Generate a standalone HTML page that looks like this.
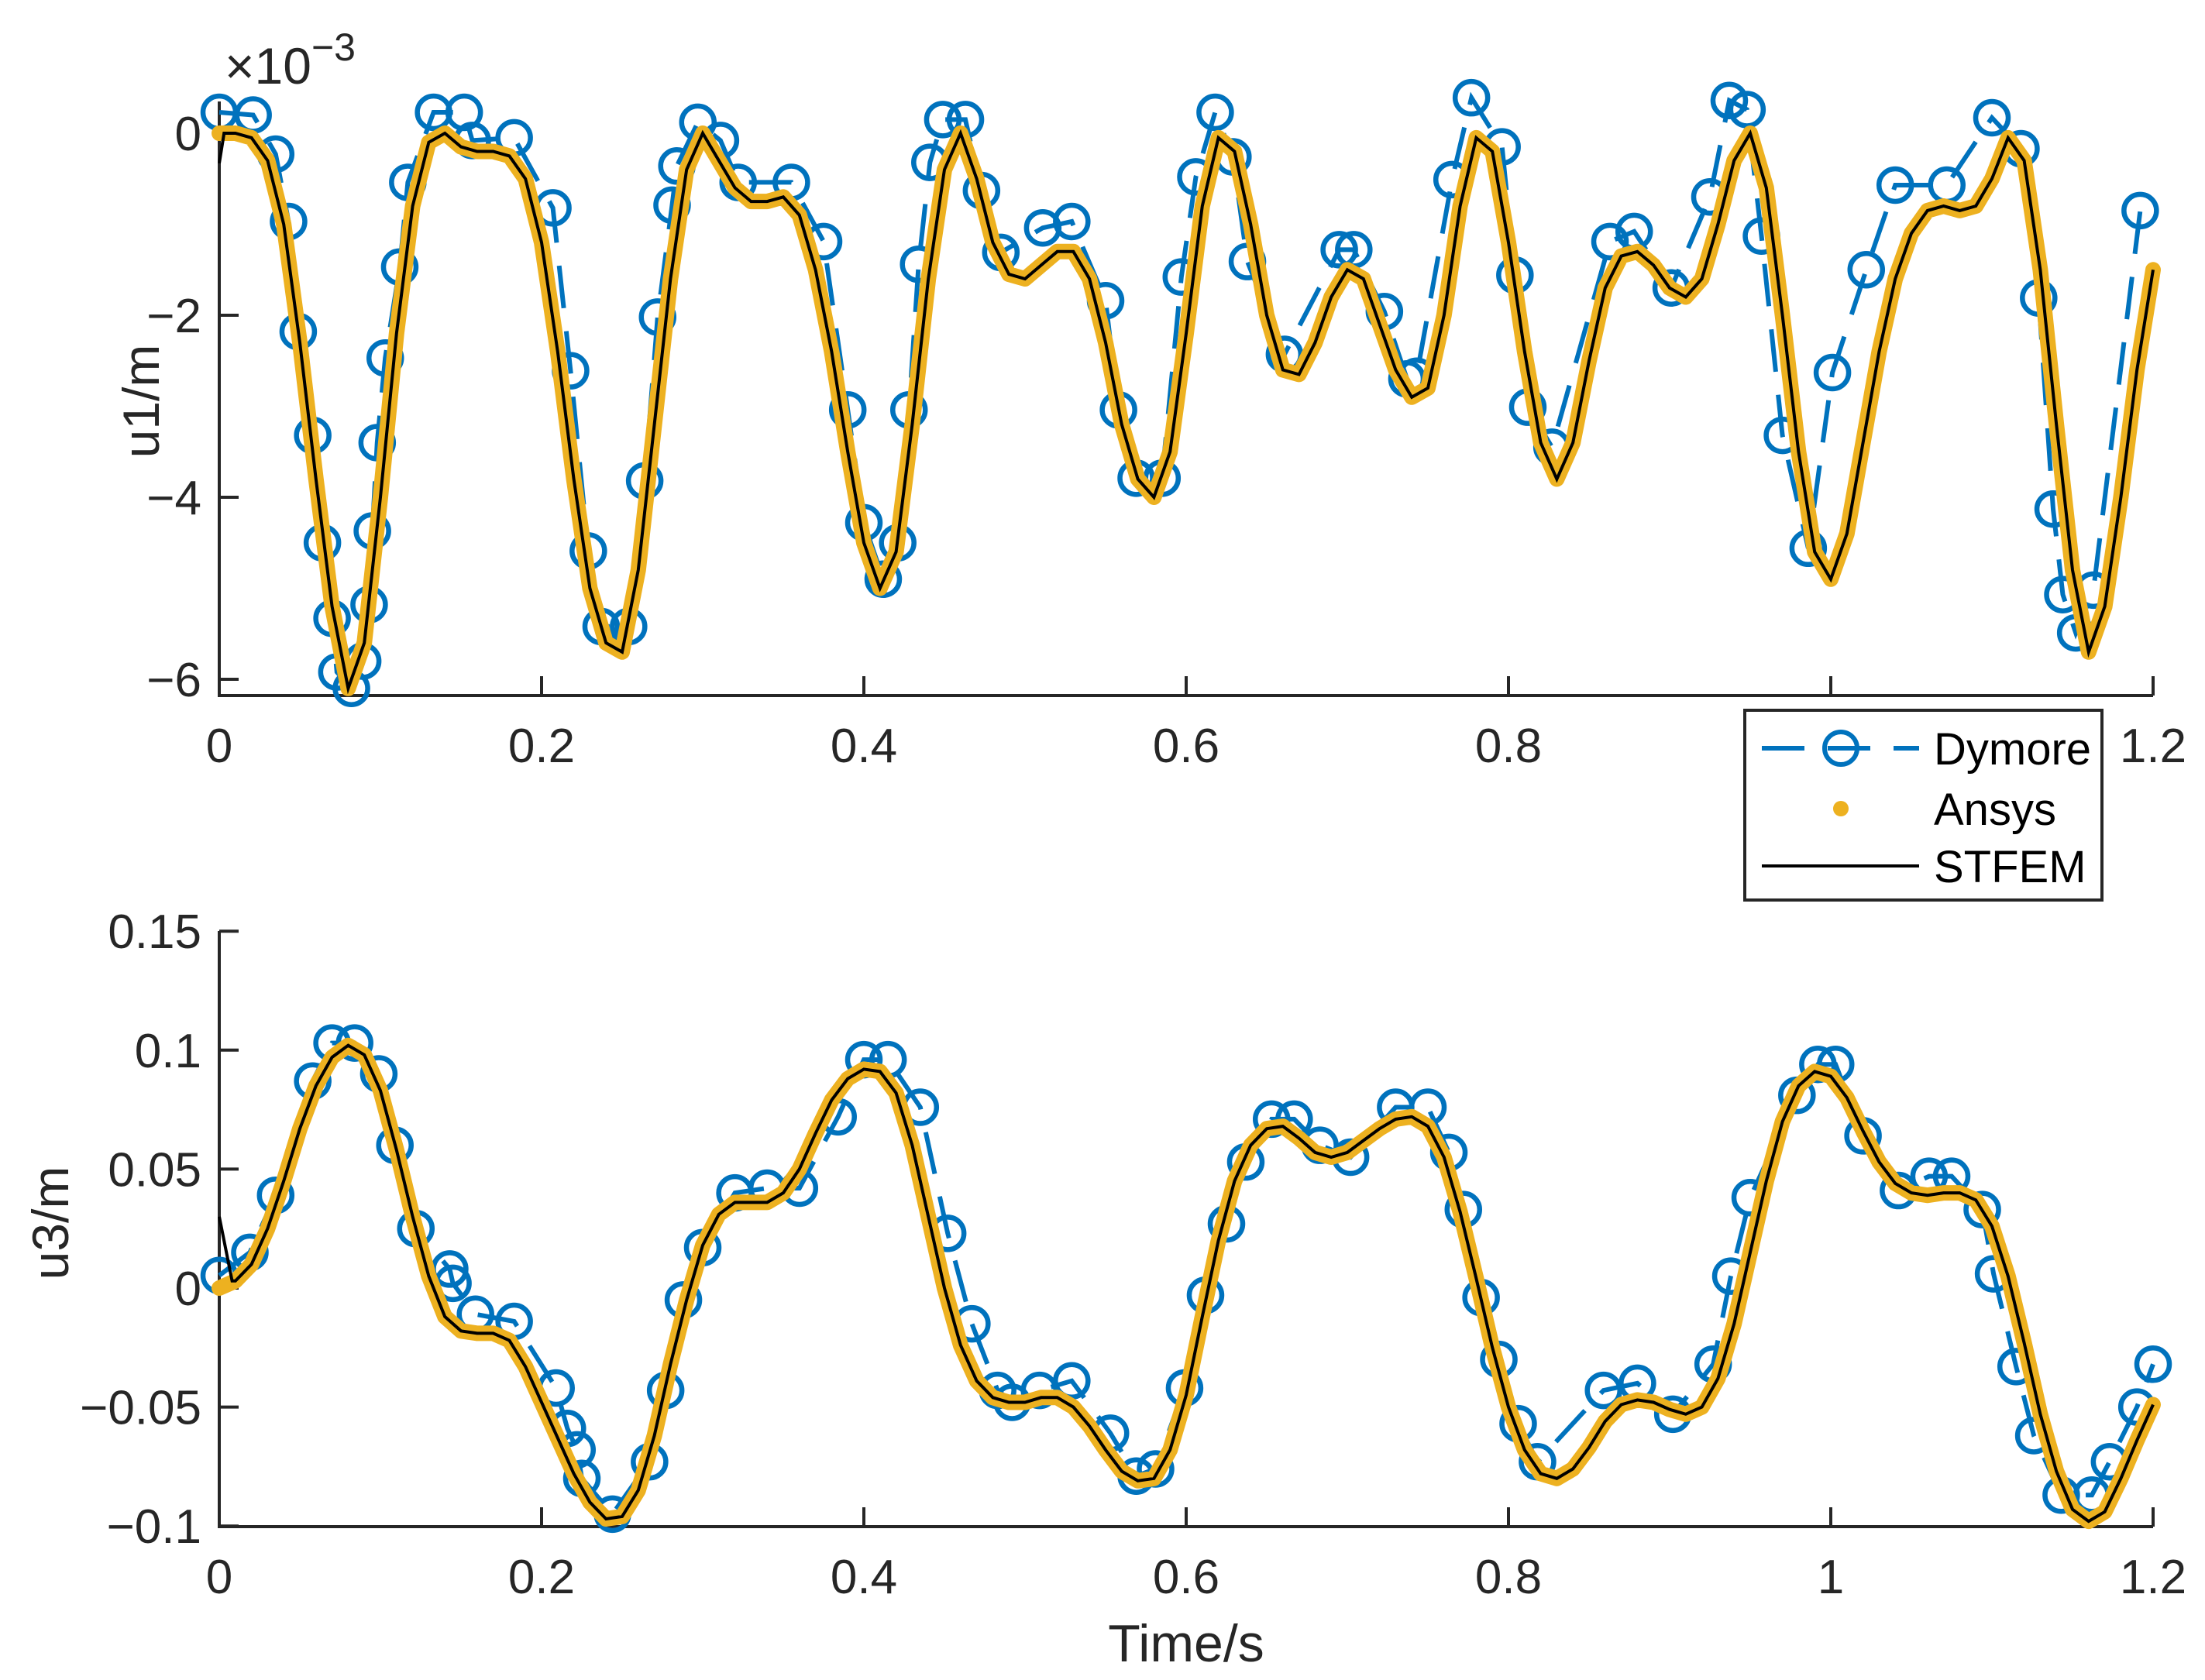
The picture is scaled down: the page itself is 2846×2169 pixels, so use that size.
<!DOCTYPE html>
<html><head><meta charset="utf-8"><style>
html,body{margin:0;padding:0;background:#fff}
svg{display:block}
text{font-family:"Liberation Sans",Arial,sans-serif;fill:#262626}
</style></head><body>
<svg id="chart" width="2846" height="2169" viewBox="0 0 2846 2169" xmlns="http://www.w3.org/2000/svg">
<g id="topPanel"></g>
<g id="botPanel"></g>
<g id="legend">
 <rect x="2252" y="917" width="461" height="245" fill="#fff" stroke="#262626" stroke-width="4"/>
 <g>
  <line x1="2274" y1="966" x2="2477" y2="966" stroke="#0072BD" stroke-width="6" stroke-dasharray="55,30"/>
  <circle cx="2376" cy="966" r="21" fill="none" stroke="#0072BD" stroke-width="6"/>
  <text x="2496" y="987" font-size="58" style="fill:#000">Dymore</text>
 </g>
 <g>
  <circle cx="2376" cy="1044" r="10" fill="#EDB120"/>
  <text x="2496" y="1065" font-size="58" style="fill:#000">Ansys</text>
 </g>
 <g>
  <line x1="2274" y1="1118" x2="2477" y2="1118" stroke="#000" stroke-width="4"/>
  <text x="2496" y="1139" font-size="58" style="fill:#000">STFEM</text>
 </g>
</g>
</svg>
<script>
const u1Stfem = [0,0,-0.05,-0.3,-1.0,-2.3,-3.8,-5.2,-6.1,-5.6,
-4.0,-2.2,-0.8,-0.1,0.0,-0.15,-0.2,-0.2,-0.25,-0.5,
-1.2,-2.4,-3.8,-5.0,-5.6,-5.7,-4.8,-3.2,-1.6,-0.4,
0.0,-0.3,-0.6,-0.75,-0.75,-0.7,-0.9,-1.5,-2.4,-3.5,
-4.5,-5.0,-4.6,-3.2,-1.6,-0.4,0.0,-0.5,-1.2,-1.55,
-1.6,-1.45,-1.3,-1.3,-1.6,-2.3,-3.2,-3.8,-4.0,-3.5,
-2.2,-0.8,-0.05,-0.2,-1.0,-2.0,-2.6,-2.65,-2.3,-1.8,
-1.5,-1.6,-2.1,-2.6,-2.9,-2.8,-2.0,-0.8,-0.05,-0.2,
-1.2,-2.4,-3.4,-3.8,-3.4,-2.5,-1.7,-1.35,-1.3,-1.45,
-1.7,-1.8,-1.6,-1.0,-0.3,0.0,-0.6,-2.0,-3.5,-4.6,
-4.9,-4.4,-3.4,-2.4,-1.6,-1.1,-0.85,-0.8,-0.85,-0.8,
-0.5,-0.05,-0.3,-1.5,-3.2,-4.8,-5.7,-5.2,-4.0,-2.6,-1.5];
const u1Ansys = u1Stfem.slice();
const u3Stfem = [0.000,0.003,0.010,0.025,0.045,0.067,0.085,0.097,0.102,0.098,
0.083,0.058,0.030,0.005,-0.012,-0.018,-0.019,-0.019,-0.022,-0.033,
-0.048,-0.063,-0.078,-0.090,-0.097,-0.096,-0.085,-0.062,-0.032,-0.005,
0.018,0.031,0.036,0.036,0.036,0.040,0.050,0.065,0.079,0.088,
0.092,0.091,0.082,0.060,0.030,0.000,-0.024,-0.039,-0.046,-0.048,
-0.048,-0.046,-0.046,-0.050,-0.058,-0.068,-0.077,-0.081,-0.080,-0.068,
-0.045,-0.012,0.020,0.045,0.060,0.067,0.068,0.063,0.057,0.055,
0.057,0.062,0.067,0.071,0.072,0.068,0.055,0.032,0.004,-0.025,
-0.050,-0.068,-0.078,-0.080,-0.076,-0.067,-0.056,-0.049,-0.047,-0.048,
-0.051,-0.053,-0.050,-0.038,-0.015,0.015,0.045,0.070,0.085,0.091,
0.089,0.080,0.066,0.053,0.044,0.040,0.039,0.040,0.040,0.037,
0.026,0.005,-0.023,-0.053,-0.077,-0.093,-0.098,-0.094,-0.080,-0.064,-0.049];
const u3Ansys = u3Stfem.slice();
const u1SpikeT = [0, 0.003];
const u1SpikeV = [-0.33, 0];
const u3SpikeT = [0, 0.008];
const u3SpikeV = [0.030, 0.003];
const u1DymT = [0,.021,.035,.043,.049,.058,.064,.070,.073,.082,.089,.093,.095,.098,.103,.112,.117,.133,.152,.157,.183,.207,.218,.229,.237,.254,.264,.272,.281,.284,.297,.311,.322,.355,.375,.390,.400,.412,.421,.428,.434,.441,.449,.463,.473,.485,.511,.529,.550,.558,.569,.585,.597,.606,.618,.629,.638,.661,.695,.704,.723,.737,.743,.765,.777,.796,.804,.812,.827,.863,.878,.901,.925,.937,.948,.957,.970,.986,1.001,1.022,1.040,1.072,1.100,1.118,1.129,1.138,1.144,1.152,1.163,1.192];
const u1DymV = [.23,.20,-.23,-.97,-2.18,-3.32,-4.50,-5.33,-5.92,-6.10,-5.80,-5.18,-4.37,-3.40,-2.47,-1.47,-.54,.23,.23,-.08,-.05,-.82,-2.61,-4.59,-5.42,-5.42,-3.82,-2.02,-.79,-.36,.12,-.08,-.54,-.54,-1.19,-3.04,-4.28,-4.90,-4.50,-3.04,-1.44,-.32,.15,.15,-.63,-1.31,-1.04,-.97,-1.84,-3.04,-3.79,-3.79,-1.58,-.48,.23,-.26,-1.41,-2.43,-1.28,-1.28,-1.96,-2.70,-2.67,-.51,.39,-.15,-1.56,-3.01,-3.45,-1.19,-1.08,-1.70,-.70,.36,.26,-1.13,-3.32,-4.56,-2.63,-1.50,-.57,-.57,.17,-.17,-1.81,-4.13,-5.07,-5.49,-5.02,-.85];
const u3DymT = [0,.019,.035,.058,.070,.084,.099,.109,.122,.143,.145,.159,.183,.209,.216,.222,.225,.244,.267,.277,.288,.300,.320,.340,.360,.384,.400,.415,.435,.452,.467,.483,.492,.509,.529,.553,.569,.581,.599,.612,.625,.637,.653,.667,.683,.702,.730,.750,.763,.772,.783,.794,.806,.818,.859,.880,.902,.927,.938,.950,.979,.992,1.003,1.020,1.042,1.061,1.075,1.094,1.101,1.115,1.126,1.143,1.162,1.173,1.190];
const u3DymV = [.0053,.015,.039,.087,.103,.103,.090,.060,.025,.008,.002,-.011,-.014,-.042,-.059,-.068,-.080,-.095,-.073,-.043,-.005,.017,.040,.042,.042,.072,.096,.096,.076,.023,-.015,-.043,-.048,-.043,-.039,-.061,-.079,-.076,-.042,-.003,.027,.053,.071,.071,.060,.055,.076,.076,.057,.033,-.004,-.030,-.057,-.073,-.043,-.040,-.053,-.032,.005,.038,.081,.094,.094,.064,.041,.047,.047,.033,.006,-.033,-.062,-.087,-.087,-.073,-.050];
const xTicks = [0,0.2,0.4,0.6,0.8,1,1.2];
const xTickLabels = ["0","0.2","0.4","0.6","0.8","1","1.2"];
const u1Ticks = [0,-2,-4,-6];
const u1TickLabels = ["0","\u22122","\u22124","\u22126"];
const u3Ticks = [0.15,0.1,0.05,0,-0.05,-0.1];
const u3TickLabels = ["0.15","0.1","0.05","0","\u22120.05","\u22120.1"];

const NS="http://www.w3.org/2000/svg";
function mk(parent,tag,attrs){const e=document.createElementNS(NS,tag);for(const k in attrs)e.setAttribute(k,attrs[k]);parent.appendChild(e);return e;}
const X0=283,X1=2779;
function xs(t){return X0+t/1.2*(X1-X0);}
function grid(n){const a=[];for(let i=0;i<n;i++)a.push(i*0.01);return a;}
function pathD(T,V,ys){return T.map((t,i)=>(i?'L':'M')+xs(t).toFixed(1)+' '+ys(V[i]).toFixed(1)).join(' ');}

function panel(g,cfg){
  const yAx=mk(g,'line',{x1:X0,y1:cfg.yTop,x2:X0,y2:cfg.yBot,stroke:'#262626','stroke-width':4});
  
  
  const xAx=mk(g,'line',{x1:X0-2,y1:cfg.yBot,x2:X1,y2:cfg.yBot,stroke:'#262626','stroke-width':4});
  
  
  xTicks.forEach((t,i)=>{
    const l=mk(g,'line',{x1:xs(t),y1:cfg.yBot,x2:xs(t),y2:cfg.yBot-25,stroke:'#262626','stroke-width':4});
    
    
    const tx=mk(g,'text',{x:xs(t),y:cfg.yBot+86,'font-size':62,'text-anchor':'middle'});
    tx.textContent=xTickLabels[i];
    
    
  });
  cfg.ticks.forEach((v,i)=>{
    const y=cfg.ys(v);
    const l=mk(g,'line',{x1:X0,y1:y,x2:X0+25,y2:y,stroke:'#262626','stroke-width':4});
    
    
    const tx=mk(g,'text',{x:260,y:y+22,'font-size':62,'text-anchor':'end'});
    tx.textContent=cfg.labels[i];
    
    
  });
  const yl=mk(g,'text',{x:0,y:0,'font-size':66,'text-anchor':'middle',transform:`translate(${cfg.ylx},${cfg.yly}) rotate(-90)`});
  yl.textContent=cfg.ylabel;
  
  
  const dl=mk(g,'path',{d:pathD(cfg.dT,cfg.dV,cfg.ys),fill:'none',stroke:'#0072BD','stroke-width':6,'stroke-dasharray':'55,30'});
  
  
  cfg.dT.forEach((t,i)=>{
    const c=mk(g,'circle',{cx:xs(t),cy:cfg.ys(cfg.dV[i]),r:21,fill:'none',stroke:'#0072BD','stroke-width':6.5});
    
    
  });
  const T=grid(cfg.aV.length);
  const al=mk(g,'path',{d:pathD(T,cfg.aV,cfg.ys),fill:'none',stroke:'#EDB120','stroke-width':20,'stroke-linejoin':'round','stroke-linecap':'round'});
  
  
  const sT=cfg.spT.concat(T.slice(1)), sV=cfg.spV.concat(cfg.sV.slice(1));
  const sl=mk(g,'path',{d:pathD(sT,sV,cfg.ys),fill:'none',stroke:'#000','stroke-width':4});
  
  
}
const topG=document.getElementById('topPanel');
const botG=document.getElementById('botPanel');
panel(topG,{yTop:131,yBot:898,ys:v=>172-v*117.5,ticks:u1Ticks,labels:u1TickLabels,ylabel:'u1/m',ylx:205,yly:518,
  dT:u1DymT,dV:u1DymV,aV:u1Ansys,sV:u1Stfem,spT:u1SpikeT,spV:u1SpikeV});
panel(botG,{yTop:1202,yBot:1971,ys:v=>1663-v*3072,ticks:u3Ticks,labels:u3TickLabels,ylabel:'u3/m',ylx:88,yly:1579,
  dT:u3DymT.concat([1.2]),dV:u3DymV.concat([-0.032]),aV:u3Ansys,sV:u3Stfem,spT:u3SpikeT,spV:u3SpikeV});
const ex=mk(topG,'text',{x:290,y:108,'font-size':66});
ex.textContent='\u00d710';
const exSup=mk(ex,'tspan',{dy:-30,'font-size':50});
exSup.textContent='\u22123';


const xt=mk(botG,'text',{x:1531,y:2145,'font-size':68,'text-anchor':'middle'});
xt.textContent='Time/s';


document.getElementById('chart').appendChild(document.getElementById('legend'));
</script>
</body></html>
